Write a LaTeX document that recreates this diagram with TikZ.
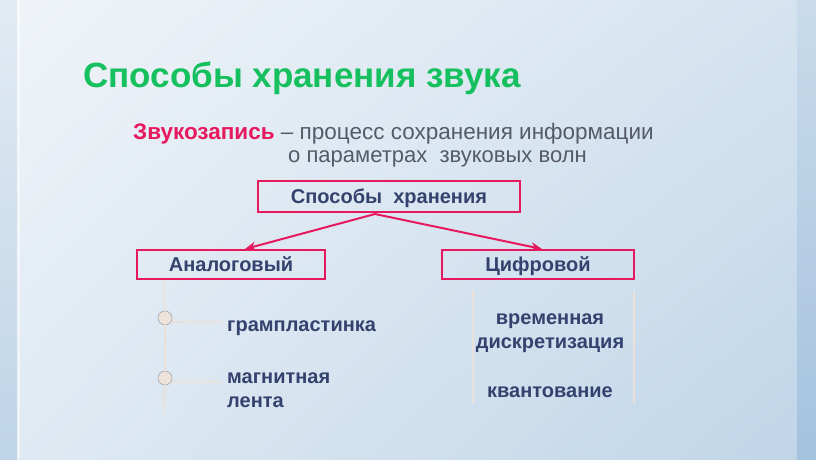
\documentclass[tikz,border=0pt]{standalone}
\usepackage{fontspec}
\setmainfont{Liberation Sans}
\usetikzlibrary{arrows.meta,shadings}

\definecolor{titlegreen}{HTML}{16C05E}
\definecolor{crimson}{HTML}{E6195E}
\definecolor{navy}{HTML}{34426E}
\definecolor{greytext}{HTML}{555A68}
\definecolor{faint}{HTML}{EAE2DA}
\definecolor{dotfill}{HTML}{EEE2DC}
\definecolor{bgTL}{HTML}{F0F4F8}
\definecolor{bgTR}{HTML}{D5E3F0}
\definecolor{bgBL}{HTML}{E0EAF3}
\definecolor{bgBR}{HTML}{BFD5E8}
\definecolor{stripTop}{HTML}{E2EBF3}
\definecolor{stripBot}{HTML}{BED4E8}
\definecolor{edgeTop}{HTML}{C9DBEB}
\definecolor{edgeBot}{HTML}{A5C2DE}

\tikzset{
  waybox/.style={draw=crimson, line width=1.8pt, text=navy,
    font=\bfseries\fontsize{20}{24}\selectfont, inner sep=0pt,
    text height=15pt, text depth=1.5pt},
  item/.style={text=navy, font=\bfseries\fontsize{20}{24}\selectfont, inner sep=0pt},
  bullet/.style={circle, draw=gray!70, fill=dotfill, line width=0.6pt, minimum size=14pt, inner sep=0pt},
  guide/.style={draw=faint, line width=1.6pt},
  pointer/.style={draw=crimson, line width=2pt, -{Stealth[length=11pt,width=9pt]}},
}

\begin{document}
\begin{tikzpicture}[x=1pt, y=-1pt] % pixel grid, y downwards
    % Background of the slide
    \shade[upper left=bgTL, upper right=bgTR, lower left=bgBL, lower right=bgBR]
        (0,0) rectangle (816,459);
    \shade[top color=stripTop, bottom color=stripBot] (0,0) rectangle (17,459);
    \fill[white, opacity=0.5] (17,0) rectangle (20,459);
    \shade[top color=edgeTop, bottom color=edgeBot] (797,0) rectangle (816,459);
    \useasboundingbox (0,0) rectangle (816,459);

    % Title and definition
    \node[anchor=base west, inner sep=0pt, text=titlegreen,
          font=\bfseries\fontsize{35}{40}\selectfont] (title) at (83,87) {Способы хранения звука};
    \node[anchor=base west, inner sep=0pt, font=\fontsize{22.5}{26}\selectfont] (defn) at (133,139)
        {\textcolor{crimson}{\bfseries Звукозапись} \textcolor{greytext}{– процесс сохранения информации}};
    \node[anchor=base west, inner sep=0pt, text=greytext, font=\fontsize{22}{26}\selectfont] (defn2) at (288,162)
        {о параметрах\ \ звуковых волн};

    % Boxes of the scheme
    \node[waybox, minimum width=262pt, minimum height=31pt] (ways) at (389,196.5) {Способы\ \ хранения};
    \node[waybox, minimum width=188pt, minimum height=29pt] (analog) at (231,264.5) {Аналоговый};
    \node[waybox, minimum width=192pt, minimum height=29pt] (digital) at (538,264.5) {Цифровой};

    % Arrows from the upper box
    \coordinate (apex) at (375,214);
    \coordinate (tipL) at (245,249);
    \coordinate (tipR) at (542,249);
    \draw[pointer] (apex) -- (tipL);
    \draw[pointer] (apex) -- (tipR);

    % Analogue ways
    \node[bullet] (dotA) at (165,318) {};
    \node[bullet] (dotB) at (165,378) {};
    \draw[guide] (163,282) -- (dotA.north);
    \draw[guide] (dotA.south) -- (dotB.north);
    \draw[guide] (dotB.south) -- (163,415);
    \node[item, anchor=base west] (vinyl) at (227,331) {грампластинка};
    \node[item, anchor=base west, align=left] (tape) at (227,407) {магнитная\\лента};
    \draw[guide] ([yshift=-4pt]dotA.east) -- ++(50,0);
    \draw[guide] ([yshift=-4pt]dotB.east) -- ++(50,0);

    % Digital ways
    \draw[guide] (473,290) -- (473,403);
    \draw[guide] (634,290) -- (634,403);
    \node[item, anchor=base, align=center] (timedisc) at (550,348) {временная\\дискретизация};
    \node[item, anchor=base] (quant) at (550,397) {квантование};
\end{tikzpicture}
\end{document}
